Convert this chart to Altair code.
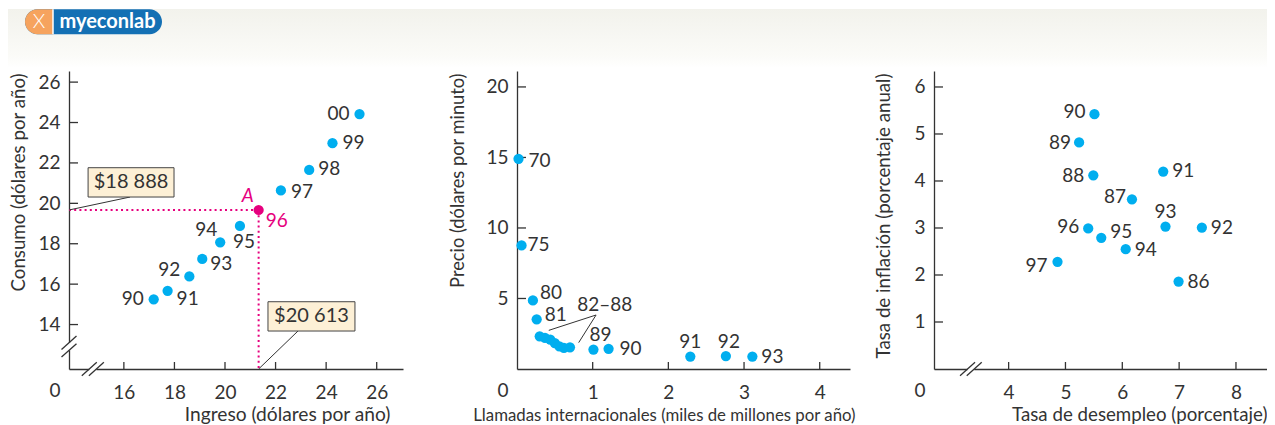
import altair as alt
import pandas as pd

# ---------------- data ----------------
# Panel 1: ingreso y consumo (miles de dólares por año)
inc_years = ["90", "91", "92", "93", "94", "95", "96", "97", "98", "99", "00"]
income = [17.18, 17.73, 18.59, 19.10, 19.81, 20.59, 21.33, 22.21, 23.33, 24.25, 25.32]
consumption = [15.25, 15.67, 16.38, 17.25, 18.07, 18.88, 19.67, 20.64, 21.65, 22.98, 24.42]
highlight_year = "96"
point_letter = "A"
callout_consumption = "$18 888"
callout_income = "$20 613"

# Panel 2: llamadas internacionales y precio
call_years = ["70", "75", "80", "81", "82", "83", "84", "85", "86", "87", "88",
              "89", "90", "91", "92", "93"]
calls = [0.02, 0.06, 0.21, 0.26, 0.30, 0.37, 0.44, 0.50, 0.56, 0.62, 0.70,
         1.01, 1.21, 2.29, 2.76, 3.11]
price = [14.9, 8.76, 4.86, 3.52, 2.32, 2.20, 2.08, 1.84, 1.61, 1.49, 1.54,
         1.38, 1.43, 0.88, 0.92, 0.88]
cluster_label = "82–88"

# Panel 3: desempleo e inflación
phil_years = ["86", "87", "88", "89", "90", "91", "92", "93", "94", "95", "96", "97"]
unemployment = [6.99, 6.17, 5.49, 5.24, 5.51, 6.72, 7.40, 6.76, 6.06, 5.63, 5.40, 4.86]
inflation = [1.86, 3.61, 4.12, 4.82, 5.42, 4.20, 3.01, 3.03, 2.55, 2.79, 2.99, 2.28]

p1_xticks = [16, 18, 20, 22, 24, 26]
p1_yticks = [14, 16, 18, 20, 22, 24, 26]
p2_xticks = [1, 2, 3, 4]
p2_yticks = [5, 10, 15, 20]
p3_xticks = [4, 5, 6, 7, 8]
p3_yticks = [1, 2, 3, 4, 5, 6]
origin_label = "0"

p1_xtitle = "Ingreso (dólares por año)"
p1_ytitle = "Consumo (dólares por año)"
p2_xtitle = "Llamadas internacionales (miles de millones por año)"
p2_ytitle = "Precio (dólares por minuto)"
p3_xtitle = "Tasa de desempleo (porcentaje)"
p3_ytitle = "Tasa de inflación (porcentaje anual)"
logo_text = "myeconlab"
logo_mark = "X"

# ---------------- styling / layout ----------------
FONT = "Lato"
INK = "#333333"
BLUE = "#00aeef"
MAGENTA = "#e6007e"
BOX_FILL = "#fdf0d6"
W1, W2, W3, H = 334, 333, 333, 298
FS = 19

P1_XDOM, P1_YDOM = [13.83, 27.04], [11.80, 26.55]
P2_XDOM, P2_YDOM = [0, 4.40], [0, 21.13]
P3_XDOM, P3_YDOM = [2.687, 8.546], [0, 6.34]

P1_PLACE = {
    "90": ("right", -10, 0), "91": ("left", 9, 8), "92": ("right", -9, -6),
    "93": ("left", 8, 5), "94": ("right", -3, -12), "95": ("left", -7, 16),
    "96": ("left", 7, 11), "97": ("left", 10, 2), "98": ("left", 9, -1),
    "99": ("left", 10, 0), "00": ("right", -10, 0),
}
P2_PLACE = {
    "70": ("left", 10, 2), "75": ("left", 6, 0), "80": ("left", 7, -7),
    "81": ("left", 8, -4), "89": ("left", -4, -15), "90": ("left", 11, 0),
    "91": ("center", 0, -15), "92": ("center", 3, -14), "93": ("left", 9, 0),
}
P3_PLACE = {
    "90": ("right", -9, -2), "89": ("right", -8, 1), "88": ("right", -9, 1),
    "91": ("left", 9, -1), "87": ("right", -6, -2), "93": ("center", 0, -15),
    "92": ("left", 9, 0), "96": ("right", -9, -1), "95": ("left", 9, -6),
    "94": ("left", 9, 1), "97": ("right", -10, 4), "86": ("left", 9, 0),
}


def x_axis(values, title, tx, tfs):
    return alt.Axis(values=values, title=title, ticks=False, tickSize=0, grid=False,
                    labelPadding=14, labelFontSize=FS, labelColor=INK, labelFont=FONT,
                    labelFlush=False, domainColor=INK, domainWidth=1.3, format="d",
                    titleX=tx, titleY=51.5, titleAlign="right", titleBaseline="alphabetic",
                    titleFontSize=tfs, titleFontWeight="normal", titleColor=INK, titleFont=FONT)


def y_axis(values, title, tx, tfs):
    return alt.Axis(values=values, title=title, ticks=False, tickSize=0, grid=False,
                    labelPadding=9, labelFontSize=FS, labelColor=INK, labelFont=FONT,
                    labelFlush=False, domainColor=INK, domainWidth=1.3, format="d",
                    titleX=tx, titleY=2, titleAngle=270, titleAlign="right",
                    titleBaseline="alphabetic", titleFontSize=tfs, titleFontWeight="normal",
                    titleColor=INK, titleFont=FONT)


class Panel:
    def __init__(self, xdom, ydom, xaxis, yaxis, w):
        self.xs = alt.Scale(domain=xdom, nice=False, zero=False)
        self.ys = alt.Scale(domain=ydom, nice=False, zero=False)
        self.xa, self.ya, self.w = xaxis, yaxis, w
        self.xdom, self.ydom = xdom, ydom

    def X(self, f):
        return alt.X(f, type="quantitative", scale=self.xs, axis=self.xa)

    def Y(self, f):
        return alt.Y(f, type="quantitative", scale=self.ys, axis=self.ya)

    def ticks(self, xt, yt):
        xr = alt.Chart(pd.DataFrame({"t": xt})).mark_rule(color=INK, strokeWidth=1.3).encode(
            x=self.X("t"), y=alt.value(H), y2=alt.value(H - 7))
        yr = alt.Chart(pd.DataFrame({"t": yt})).mark_rule(color=INK, strokeWidth=1.3).encode(
            y=self.Y("t"), x=alt.value(0), x2=alt.value(9))
        return [xr, yr]

    def origin(self):
        d = pd.DataFrame({"x": [self.xdom[0]], "y": [self.ydom[0]], "t": [origin_label]})
        return alt.Chart(d).mark_text(fontSize=FS, font=FONT, color=INK, dx=-14, dy=22,
                                      baseline="middle").encode(
            x=self.X("x"), y=self.Y("y"), text="t:N")

    def points(self, df, highlight=None):
        if highlight is None:
            col = alt.value(BLUE)
        else:
            col = alt.condition(alt.datum.label == highlight, alt.value(MAGENTA), alt.value(BLUE))
        return alt.Chart(df).mark_circle(size=105, opacity=1).encode(
            x=self.X("x"), y=self.Y("y"), color=col)

    def labels(self, df, place, highlight=None):
        out = []
        for lab, (al, dx, dy) in place.items():
            c = MAGENTA if lab == highlight else INK
            out.append(alt.Chart(df).transform_filter(alt.datum.label == lab).mark_text(
                align=al, dx=dx, dy=dy, baseline="middle", fontSize=FS, font=FONT, color=c
            ).encode(x=self.X("x"), y=self.Y("y"), text="label:N"))
        return out

    def slash_pair(self, centers, hx, hy, axis):
        rows = []
        for cx, cy in centers:
            rows.append({"x": cx - hx, "y": cy - hy, "x2": cx + hx, "y2": cy + hy})
        d = pd.DataFrame(rows)
        slashes = alt.Chart(d).mark_rule(color=INK, strokeWidth=1.3).encode(
            x=self.X("x"), y=self.Y("y"), x2="x2", y2="y2")
        (ax, ay), (bx, by) = centers
        if axis == "y":
            g = pd.DataFrame({"x": [ax], "y": [ay], "y2": [by]})
            gap = alt.Chart(g).mark_rule(color="white", strokeWidth=4).encode(
                x=self.X("x"), y=self.Y("y"), y2="y2")
        else:
            g = pd.DataFrame({"x": [ax], "x2": [bx], "y": [ay]})
            gap = alt.Chart(g).mark_rule(color="white", strokeWidth=4).encode(
                x=self.X("x"), x2="x2", y=self.Y("y"))
        return [gap, slashes]


NOVIEW = alt.ViewBackground(stroke="transparent", strokeWidth=0)

# ---------------- panel 1 ----------------
p1 = Panel(P1_XDOM, P1_YDOM, x_axis(p1_xticks, p1_xtitle, W1 - 13, 19.2),
           y_axis(p1_yticks, p1_ytitle, -44.3, 18.7), W1)
df1 = pd.DataFrame({"x": income, "y": consumption, "label": inc_years})
ia = inc_years.index(highlight_year)
ax_, ay_ = income[ia], consumption[ia]
xmin1, ymin1 = P1_XDOM[0], P1_YDOM[0]

one = pd.DataFrame({"k": [0]})
band = alt.Chart(one).mark_rect(color=alt.LinearGradient(
    gradient="linear", x1=0, x2=0, y1=0, y2=1,
    stops=[alt.GradientStop(color="#f2f2ec", offset=0),
           alt.GradientStop(color="#fbfbf8", offset=0.8),
           alt.GradientStop(color="#ffffff", offset=1)])).encode(
    x=alt.value(-61), x2=alt.value(1198), y=alt.value(-62), y2=alt.value(-3))
pill = alt.Chart(one).mark_rect(color="#1470b4", cornerRadius=12.5).encode(
    x=alt.value(-44), x2=alt.value(93), y=alt.value(-61.7), y2=alt.value(-36.7))
orange = alt.Chart(one).mark_rect(color="#f6a35e", cornerRadiusTopLeft=12.5,
                                  cornerRadiusBottomLeft=12.5).encode(
    x=alt.value(-44), x2=alt.value(-16), y=alt.value(-61.7), y2=alt.value(-36.7))
sep = alt.Chart(one).mark_rule(color="white", strokeWidth=1.5).encode(
    x=alt.value(-16), y=alt.value(-61.7), y2=alt.value(-36.7))
logo_t = alt.Chart(one).mark_text(color="white", fontSize=20, fontWeight="bold", font=FONT,
                                  align="center", baseline="middle").encode(
    x=alt.value(38.5), y=alt.value(-49.5), text=alt.value(logo_text))
logo_x = alt.Chart(one).mark_text(color="white", fontSize=20, font=FONT, fontWeight=300,
                                  align="center", baseline="middle").encode(
    x=alt.value(-30), y=alt.value(-49), text=alt.value(logo_mark))

guide = pd.DataFrame({"x": [ax_], "y": [ay_], "x0": [xmin1], "y0": [ymin1]})
hdot = alt.Chart(guide).mark_rule(color=MAGENTA, strokeWidth=2, strokeDash=[2, 3.2]).encode(
    x=p1.X("x0"), x2="x", y=p1.Y("y"))
vdot = alt.Chart(guide).mark_rule(color=MAGENTA, strokeWidth=2, strokeDash=[2, 3.2]).encode(
    x=p1.X("x"), y=p1.Y("y"), y2="y0")

boxes = pd.DataFrame({
    "x": [14.585, 21.70], "x2": [17.984, 25.14],
    "y": [20.312, 13.68], "y2": [21.763, 15.13],
    "t": [callout_consumption, callout_income],
})
boxes["cx"] = (boxes["x"] + boxes["x2"]) / 2
boxes["cy"] = (boxes["y"] + boxes["y2"]) / 2
box_r = alt.Chart(boxes).mark_rect(fill=BOX_FILL, stroke="#444444", strokeWidth=1).encode(
    x=p1.X("x"), x2="x2", y=p1.Y("y"), y2="y2")
box_t = alt.Chart(boxes).mark_text(fontSize=20, font=FONT, color=INK, baseline="middle").encode(
    x=p1.X("cx"), y=p1.Y("cy"), text="t:N")
leaders1 = pd.DataFrame({"x": [xmin1, ax_], "y": [ay_, ymin1],
                         "x2": [16.245, 22.886], "y2": [20.312, 13.68]})
lead1 = alt.Chart(leaders1).mark_rule(color=INK, strokeWidth=1).encode(
    x=p1.X("x"), y=p1.Y("y"), x2="x2", y2="y2")
letter = alt.Chart(guide.assign(t=point_letter)).mark_text(
    fontSize=FS, font=FONT, color=MAGENTA, fontStyle="italic", dx=-11, dy=-14,
    baseline="middle").encode(x=p1.X("x"), y=p1.Y("y"), text="t:N")

brk1y = p1.slash_pair([(xmin1, 13.10), (xmin1, 12.72)], 0.296, 0.33, "y")
brk1x = p1.slash_pair([(14.632, ymin1), (14.913, ymin1)], 0.296, 0.33, "x")

panel1 = alt.layer(
    band, pill, orange, sep, logo_t, logo_x,
    *p1.ticks(p1_xticks, p1_yticks), p1.origin(), *brk1y, *brk1x,
    hdot, vdot, lead1, box_r, box_t,
    p1.points(df1, highlight_year), *p1.labels(df1, P1_PLACE, highlight_year), letter,
).properties(width=W1, height=H, view=NOVIEW)

# ---------------- panel 2 ----------------
p2 = Panel(P2_XDOM, P2_YDOM, x_axis(p2_xticks, p2_xtitle, W2 + 5, 16.8),
           y_axis(p2_yticks, p2_ytitle, -53.4, 18.3), W2)
df2 = pd.DataFrame({"x": calls, "y": price, "label": call_years})
cl = pd.DataFrame({"x": [1.16], "y": [4.54], "t": [cluster_label]})
cl_t = alt.Chart(cl).mark_text(fontSize=FS, font=FONT, color=INK, baseline="middle").encode(
    x=p2.X("x"), y=p2.Y("y"), text="t:N")
leaders2 = pd.DataFrame({"x": [1.045, 1.045], "y": [3.83, 3.83],
                         "x2": [0.42, 0.815], "y2": [2.74, 1.87]})
lead2 = alt.Chart(leaders2).mark_rule(color=INK, strokeWidth=1).encode(
    x=p2.X("x"), y=p2.Y("y"), x2="x2", y2="y2")
panel2 = alt.layer(
    *p2.ticks(p2_xticks, p2_yticks), p2.origin(), lead2, cl_t,
    p2.points(df2), *p2.labels(df2, P2_PLACE),
).properties(width=W2, height=H, view=NOVIEW)

# ---------------- panel 3 ----------------
p3 = Panel(P3_XDOM, P3_YDOM, x_axis(p3_xticks, p3_xtitle, W3, 18.7),
           y_axis(p3_yticks, p3_ytitle, -44.7, 18.7), W3)
df3 = pd.DataFrame({"x": unemployment, "y": inflation, "label": phil_years})
brk3x = p3.slash_pair([(3.277, 0), (3.395, 0)], 0.132, 0.143, "x")
panel3 = alt.layer(
    *p3.ticks(p3_xticks, p3_yticks), p3.origin(), *brk3x,
    p3.points(df3), *p3.labels(df3, P3_PLACE),
).properties(width=W3, height=H, view=NOVIEW)


def spacer(w):
    return alt.Chart(one).mark_point(opacity=0).encode(
        x=alt.value(0), y=alt.value(0)).properties(width=w, height=H, view=NOVIEW)


chart = alt.hconcat(panel1, spacer(114), panel2, spacer(84), panel3,
                    spacing=0, bounds="flush").properties(
    padding=0, background="white").configure_view(
    stroke="transparent", strokeWidth=0).configure(font=FONT)

chart.save("out.html", embed_options={"renderer": "svg", "actions": False})
